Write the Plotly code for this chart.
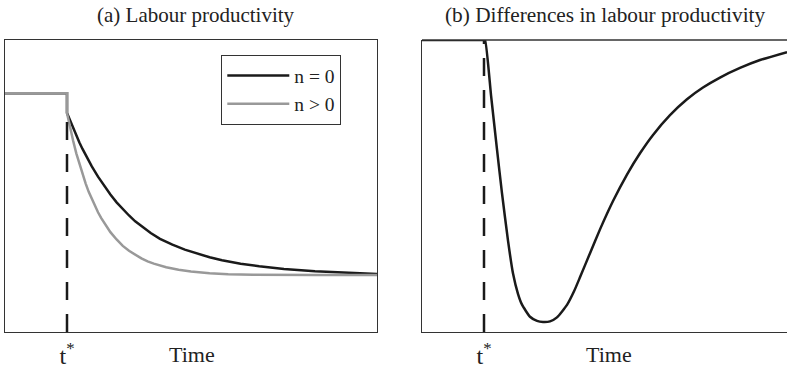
import plotly.graph_objects as go

# ---------------- data ----------------
T_STAR = 10
# panel (a) labour productivity, n = 0
TIME_N0 = [0, 10, 10, 10.5, 11, 11.5, 12, 12.5, 13, 13.5, 14, 15, 16, 17, 18, 19, 20, 21, 22, 23.5, 25, 27, 29, 31, 33, 35, 38, 41, 45, 50, 55, 60]
PROD_N0 = [81.8, 81.8, 75.0, 72.3, 69.7, 67.3, 64.9, 62.7, 60.6, 58.6, 56.7, 53.2, 50.0, 47.1, 44.4, 42.1, 39.9, 37.9, 36.2, 33.9, 31.9, 29.9, 28.2, 26.8, 25.6, 24.6, 23.4, 22.5, 21.6, 20.8, 20.3, 19.9]
# panel (a) labour productivity, n > 0
TIME_NP = [0, 10, 10, 10.5, 11, 11.5, 12, 12.5, 13, 13.5, 14, 14.5, 15, 15.5, 16, 17, 18, 19, 20, 21, 22, 23, 24, 26, 28, 30, 33, 36, 40, 50, 60]
PROD_NP = [81.8, 81.8, 75.0, 69.9, 65.4, 61.2, 57.5, 54.0, 50.9, 48.0, 45.5, 43.2, 41.0, 39.1, 37.3, 34.2, 31.7, 29.5, 27.8, 26.4, 25.2, 24.2, 23.4, 22.2, 21.3, 20.7, 20.1, 19.8, 19.6, 19.5, 19.5]
# panel (b) differences in labour productivity
TIME_DIFF = [0, 9.9, 10.16, 11.13, 12.10, 12.90, 13.87, 14.68, 15.48, 16.13, 17.42, 18.55, 19.52, 20.65, 21.77, 23.39, 24.52, 25.48, 27.10, 28.71, 30.81, 33.06, 35.16, 37.26, 40.00, 42.74, 45.32, 48.06, 51.29, 54.52, 58.87]
DIFF = [0, 0, 0, -2.64, -5.26, -7.34, -9.62, -11.20, -12.17, -12.69, -13.27, -13.47, -13.52, -13.49, -13.30, -12.70, -12.05, -11.38, -10.22, -9.08, -7.72, -6.45, -5.43, -4.55, -3.60, -2.84, -2.28, -1.80, -1.34, -0.96, -0.58]

TITLE_A = "(a) Labour productivity"
TITLE_B = "(b) Differences in labour productivity"
X_LABEL = "Time"
TSTAR_LABEL = "t<sup>*</sup>"
NAMES = ["n = 0", "n > 0"]

W, H = 787, 368
FONT = "Liberation Serif"
FRAME = "#333333"
TXT = "#222222"

fig = go.Figure()
fig.add_trace(go.Scatter(x=TIME_N0, y=PROD_N0, mode="lines", name=NAMES[0],
                         line=dict(color="#1a1a1a", width=2.5),
                         xaxis="x", yaxis="y"))
fig.add_trace(go.Scatter(x=TIME_NP, y=PROD_NP, mode="lines", name=NAMES[1],
                         line=dict(color="#999999", width=2.5),
                         xaxis="x", yaxis="y"))
fig.add_trace(go.Scatter(x=TIME_DIFF, y=DIFF, mode="lines", showlegend=False,
                         line=dict(color="#1a1a1a", width=2.5, shape="spline", smoothing=0.5),
                         xaxis="x2", yaxis="y2"))

# dashed t* markers
fig.add_shape(type="line", xref="x", yref="y", x0=T_STAR, x1=T_STAR, y0=0, y1=PROD_N0[2] - 1.5,
              line=dict(color="#1a1a1a", width=2.5, dash="18px,14px"))
fig.add_shape(type="line", xref="x2", yref="y2", x0=T_STAR, x1=T_STAR, y0=-14, y1=0,
              line=dict(color="#1a1a1a", width=2.5, dash="18px,14px"))
# top frame of panel (b)
fig.add_shape(type="line", xref="x2 domain", yref="y2 domain", x0=0, x1=1, y0=1, y1=1,
              line=dict(color=FRAME, width=1.3))

axis_common = dict(showgrid=False, zeroline=False, linecolor=FRAME, linewidth=1.3, automargin=False)
fig.update_layout(
    width=W, height=H,
    margin=dict(l=0, r=0, t=40, b=36),
    paper_bgcolor="white", plot_bgcolor="white",
    font=dict(family=FONT, size=19, color=TXT),
    xaxis=dict(domain=[5 / W, 377 / W], range=[0, 60], showline=True, mirror=True,
               tickmode="array", tickvals=[T_STAR], ticktext=[TSTAR_LABEL], ticks="",
               ticklabelstandoff=2, tickfont=dict(size=24, color=TXT), **axis_common),
    yaxis=dict(domain=[0, 1], range=[0, 100], showline=True, mirror=True,
               showticklabels=False, ticks="", **axis_common),
    xaxis2=dict(domain=[422 / W, 1], range=[0, 58.87], showline=True, mirror=False,
                tickmode="array", tickvals=[T_STAR], ticktext=[TSTAR_LABEL], ticks="",
                ticklabelstandoff=2, tickfont=dict(size=24, color=TXT), anchor="y2", **axis_common),
    yaxis2=dict(domain=[0, 1], range=[-14, 0], showline=True, mirror=False,
                showticklabels=False, ticks="", anchor="x2", **axis_common),
    legend=dict(x=221 / W, y=(332 - 55) / 292, xanchor="left", yanchor="top",
                bordercolor=FRAME, borderwidth=1.3, bgcolor="white", itemwidth=62,
                font=dict(family=FONT, size=19.5, color=TXT), tracegroupgap=0),
    showlegend=True,
    annotations=[
        dict(text=TITLE_A, xref="paper", yref="paper", x=196 / W, y=(332 - 15) / 292,
             xanchor="center", yanchor="middle", showarrow=False, font=dict(size=21)),
        dict(text=TITLE_B, xref="paper", yref="paper", x=605 / W, y=(332 - 15) / 292,
             xanchor="center", yanchor="middle", showarrow=False, font=dict(size=21.3)),
        dict(text=X_LABEL, xref="paper", yref="paper", x=192 / W, y=(332 - 354) / 292,
             xanchor="center", yanchor="middle", showarrow=False, font=dict(size=22)),
        dict(text=X_LABEL, xref="paper", yref="paper", x=609 / W, y=(332 - 354) / 292,
             xanchor="center", yanchor="middle", showarrow=False, font=dict(size=22)),
    ],
)

fig.write_html("out.html")
